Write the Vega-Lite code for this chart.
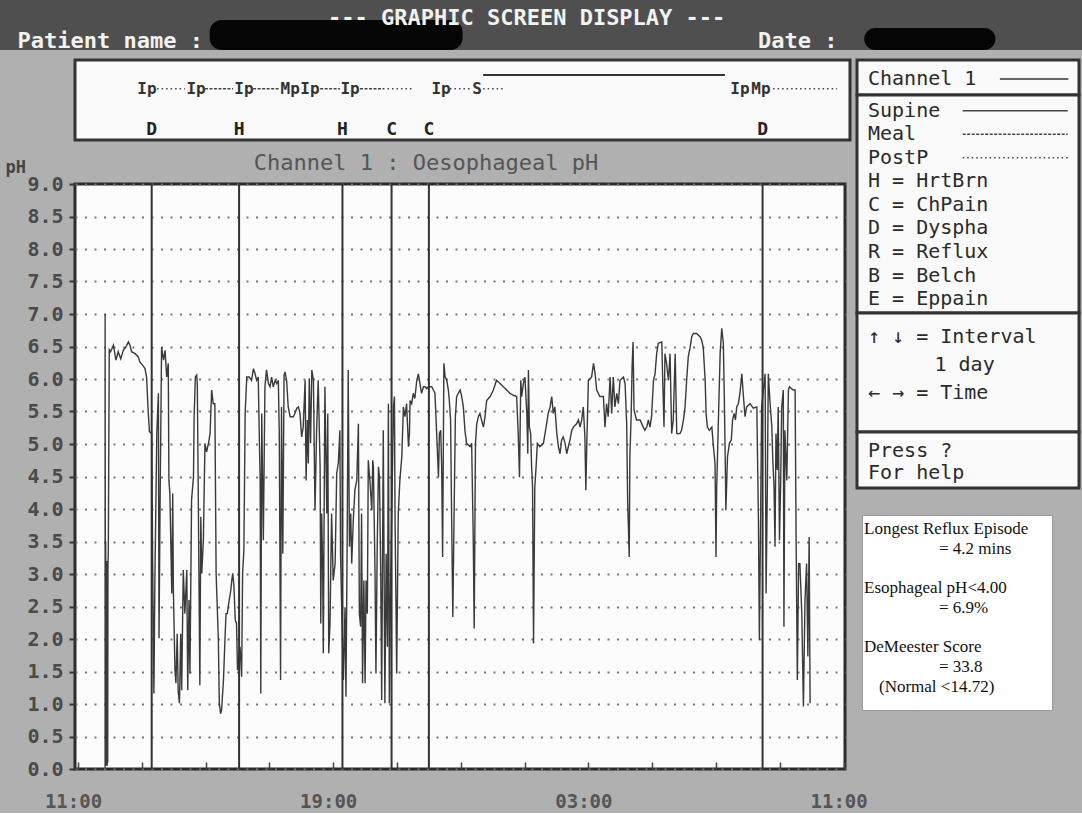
{
  "$schema": "https://vega.github.io/schema/vega-lite/v6.json",
  "background": "#b0b0b0",
  "padding": 0,
  "config": {
    "view": {"stroke": null},
    "font": "DejaVu Sans Mono",
    "text": {"font": "DejaVu Sans Mono"},
    "title": {"font": "DejaVu Sans Mono"}
  },
  "datasets": {
    "header": [
      {"text": "--- GRAPHIC SCREEN DISPLAY ---", "col": 24.25, "row": 1},
      {"text": "Patient name :", "col": 1.3, "row": 2},
      {"text": "Date :", "col": 56.05, "row": 2}
    ],
    "redacted": [
      {"col": 15.5, "col2": 34.2, "row": 1.106, "row2": 2.383},
      {"col": 63.9, "col2": 73.6, "row": 1.447, "row2": 2.383}
    ],
    "events": [
      {"hour": 2.31, "code": "D"},
      {"hour": 5.05, "code": "H"},
      {"hour": 8.29, "code": "H"},
      {"hour": 9.83, "code": "C"},
      {"hour": 11.0, "code": "C"},
      {"hour": 21.46, "code": "D"}
    ],
    "markers": [
      {"hour": 2.16, "label": "Ip"},
      {"hour": 3.7, "label": "Ip"},
      {"hour": 5.2, "label": "Ip"},
      {"hour": 6.65, "label": "Mp"},
      {"hour": 7.27, "label": "Ip"},
      {"hour": 8.53, "label": "Ip"},
      {"hour": 11.38, "label": "Ip"},
      {"hour": 12.51, "label": "S"},
      {"hour": 20.75, "label": "Ip"},
      {"hour": 21.41, "label": "Mp"}
    ],
    "periods": [
      {"start": 2.48, "end": 3.35, "kind": "PostP"},
      {"start": 3.98, "end": 4.86, "kind": "Meal"},
      {"start": 5.49, "end": 6.33, "kind": "Meal"},
      {"start": 7.59, "end": 8.21, "kind": "Meal"},
      {"start": 8.84, "end": 9.56, "kind": "Meal"},
      {"start": 9.56, "end": 10.5, "kind": "PostP"},
      {"start": 11.66, "end": 12.29, "kind": "PostP"},
      {"start": 12.7, "end": 13.32, "kind": "PostP"},
      {"start": 12.7, "end": 20.28, "kind": "Supine"},
      {"start": 21.79, "end": 23.79, "kind": "PostP"}
    ],
    "chanRows": [{"row": 1, "col": 0, "text": "Channel 1"}],
    "legendRows": [
      {"row": 1, "col": 0, "text": "Supine", "kind": "Supine"},
      {"row": 2, "col": 0, "text": "Meal", "kind": "Meal"},
      {"row": 3, "col": 0, "text": "PostP", "kind": "PostP"},
      {"row": 4, "col": 0, "text": "H = HrtBrn"},
      {"row": 5, "col": 0, "text": "C = ChPain"},
      {"row": 6, "col": 0, "text": "D = Dyspha"},
      {"row": 7, "col": 0, "text": "R = Reflux"},
      {"row": 8, "col": 0, "text": "B = Belch"},
      {"row": 9, "col": 0, "text": "E = Eppain"}
    ],
    "keyRows": [
      {"row": 1, "col": 0, "text": "↑ ↓ = Interval"},
      {"row": 2, "col": 5, "text": "1 day"},
      {"row": 3, "col": 0, "text": "← → = Time"}
    ],
    "helpRows": [
      {"row": 1, "col": 0, "text": "Press ?"},
      {"row": 2, "col": 0, "text": "For help"}
    ],
    "statRows": [
      {"row": 0, "indent": 0, "text": "Longest Reflux Episode"},
      {"row": 1, "indent": 5, "text": "= 4.2 mins"},
      {"row": 3, "indent": 0, "text": "Esophageal pH<4.00"},
      {"row": 4, "indent": 5, "text": "= 6.9%"},
      {"row": 6, "indent": 0, "text": "DeMeester Score"},
      {"row": 7, "indent": 5, "text": "= 33.8"},
      {"row": 8, "indent": 1, "text": "(Normal <14.72)"}
    ],
    "ph": [
      {"hour":0.85,"pH":0.02},{"hour":0.85,"pH":7.0},{"hour":0.86,"pH":0.05},{"hour":0.868,"pH":3.5},{"hour":0.875,"pH":0.05},{"hour":0.882,"pH":3.2},{"hour":0.889,"pH":0.05},{"hour":0.896,"pH":3.2},{"hour":0.903,"pH":0.05},{"hour":0.91,"pH":3.2},{"hour":0.917,"pH":0.05},{"hour":0.924,"pH":3.2},{"hour":0.931,"pH":0.1},{"hour":0.94,"pH":3.2},{"hour":0.95,"pH":3.3},{"hour":0.98,"pH":6.45},
      {"hour":1.02,"pH":6.42},{"hour":1.11,"pH":6.52},{"hour":1.19,"pH":6.29},{"hour":1.26,"pH":6.42},{"hour":1.34,"pH":6.31},{"hour":1.42,"pH":6.44},{"hour":1.5,"pH":6.49},{"hour":1.58,"pH":6.57},{"hour":1.63,"pH":6.52},{"hour":1.68,"pH":6.42},{"hour":1.79,"pH":6.39},{"hour":1.89,"pH":6.34},{"hour":1.94,"pH":6.26},{"hour":2.03,"pH":6.21},{"hour":2.1,"pH":6.16},{"hour":2.15,"pH":6.03},{"hour":2.2,"pH":5.5},{"hour":2.24,"pH":5.19},{"hour":2.31,"pH":5.16},{"hour":2.34,"pH":3.21},{"hour":2.38,"pH":1.16},{"hour":2.41,"pH":2.9},{"hour":2.47,"pH":5.16},{"hour":2.52,"pH":5.78},{"hour":2.54,"pH":2.01},{"hour":2.57,"pH":3.93},{"hour":2.62,"pH":6.49},{"hour":2.68,"pH":6.29},{"hour":2.73,"pH":6.44},{"hour":2.78,"pH":6.03},{"hour":2.83,"pH":6.24},{"hour":2.85,"pH":4.44},{"hour":2.88,"pH":4.24},{"hour":2.94,"pH":2.7},{"hour":2.97,"pH":4.24},{"hour":2.99,"pH":2.75},{"hour":3.04,"pH":1.52},{"hour":3.07,"pH":1.32},{"hour":3.11,"pH":2.08},{"hour":3.14,"pH":1.21},{"hour":3.18,"pH":1.01},{"hour":3.22,"pH":2.08},{"hour":3.25,"pH":1.21},{"hour":3.3,"pH":3.06},{"hour":3.35,"pH":2.39},{"hour":3.41,"pH":3.06},{"hour":3.44,"pH":1.21},{"hour":3.48,"pH":2.6},{"hour":3.51,"pH":1.47},{"hour":3.56,"pH":4.14},{"hour":3.62,"pH":4.49},{"hour":3.64,"pH":5.42},{"hour":3.68,"pH":6.03},{"hour":3.72,"pH":6.06},{"hour":3.74,"pH":5.93},{"hour":3.77,"pH":4.24},{"hour":3.82,"pH":1.29},{"hour":3.85,"pH":3.88},{"hour":3.88,"pH":3.01},{"hour":3.93,"pH":3.52},{"hour":3.98,"pH":5.01},{"hour":4.03,"pH":4.88},{"hour":4.09,"pH":5.01},{"hour":4.14,"pH":5.16},{"hour":4.19,"pH":5.83},{"hour":4.24,"pH":5.62},{"hour":4.29,"pH":5.62},{"hour":4.33,"pH":3.01},{"hour":4.4,"pH":1.98},{"hour":4.43,"pH":1.01},{"hour":4.47,"pH":0.85},{"hour":4.5,"pH":0.9},{"hour":4.56,"pH":1.37},{"hour":4.61,"pH":2.03},{"hour":4.64,"pH":2.39},{"hour":4.68,"pH":2.39},{"hour":4.74,"pH":2.6},{"hour":4.79,"pH":2.75},{"hour":4.82,"pH":2.9},{"hour":4.85,"pH":3.01},{"hour":4.89,"pH":2.8},{"hour":4.93,"pH":2.29},{"hour":4.97,"pH":2.24},{"hour":5.0,"pH":1.52},{"hour":5.08,"pH":1.88},{"hour":5.13,"pH":1.42},{"hour":5.16,"pH":3.01},{"hour":5.2,"pH":3.37},{"hour":5.24,"pH":5.47},{"hour":5.29,"pH":6.03},{"hour":5.37,"pH":6.03},{"hour":5.44,"pH":5.98},{"hour":5.5,"pH":6.16},{"hour":5.55,"pH":6.08},{"hour":5.6,"pH":5.98},{"hour":5.65,"pH":6.03},{"hour":5.71,"pH":4.44},{"hour":5.73,"pH":1.16},{"hour":5.76,"pH":5.47},{"hour":5.81,"pH":3.52},{"hour":5.86,"pH":5.88},{"hour":5.91,"pH":6.14},{"hour":5.97,"pH":5.93},{"hour":6.02,"pH":5.88},{"hour":6.07,"pH":6.03},{"hour":6.12,"pH":5.88},{"hour":6.18,"pH":5.98},{"hour":6.23,"pH":5.93},{"hour":6.28,"pH":5.98},{"hour":6.31,"pH":5.16},{"hour":6.35,"pH":1.37},{"hour":6.38,"pH":5.57},{"hour":6.42,"pH":3.31},{"hour":6.46,"pH":6.06},{"hour":6.49,"pH":6.11},{"hour":6.54,"pH":5.98},{"hour":6.59,"pH":5.57},{"hour":6.65,"pH":5.42},{"hour":6.75,"pH":5.42},{"hour":6.8,"pH":5.47},{"hour":6.86,"pH":5.55},{"hour":6.91,"pH":5.57},{"hour":6.96,"pH":5.47},{"hour":7.01,"pH":5.11},{"hour":7.06,"pH":5.26},{"hour":7.12,"pH":5.98},{"hour":7.15,"pH":4.44},{"hour":7.19,"pH":5.37},{"hour":7.22,"pH":4.7},{"hour":7.25,"pH":6.01},{"hour":7.29,"pH":5.01},{"hour":7.33,"pH":6.14},{"hour":7.38,"pH":5.98},{"hour":7.43,"pH":3.98},{"hour":7.48,"pH":5.21},{"hour":7.53,"pH":5.98},{"hour":7.59,"pH":4.65},{"hour":7.61,"pH":2.24},{"hour":7.64,"pH":3.93},{"hour":7.67,"pH":3.11},{"hour":7.69,"pH":1.78},{"hour":7.74,"pH":5.88},{"hour":7.8,"pH":3.93},{"hour":7.83,"pH":5.47},{"hour":7.86,"pH":1.78},{"hour":7.9,"pH":2.24},{"hour":7.95,"pH":3.93},{"hour":8.0,"pH":2.9},{"hour":8.06,"pH":3.16},{"hour":8.11,"pH":4.55},{"hour":8.16,"pH":4.7},{"hour":8.21,"pH":5.21},{"hour":8.23,"pH":3.31},{"hour":8.27,"pH":2.39},{"hour":8.32,"pH":1.37},{"hour":8.37,"pH":2.49},{"hour":8.4,"pH":1.11},{"hour":8.44,"pH":3.62},{"hour":8.47,"pH":6.14},{"hour":8.51,"pH":3.42},{"hour":8.55,"pH":3.93},{"hour":8.58,"pH":3.16},{"hour":8.63,"pH":3.83},{"hour":8.68,"pH":4.29},{"hour":8.74,"pH":4.44},{"hour":8.79,"pH":5.31},{"hour":8.82,"pH":2.39},{"hour":8.86,"pH":2.19},{"hour":8.89,"pH":3.93},{"hour":8.92,"pH":1.32},{"hour":8.96,"pH":2.9},{"hour":9.0,"pH":1.32},{"hour":9.03,"pH":2.9},{"hour":9.07,"pH":2.39},{"hour":9.1,"pH":4.75},{"hour":9.15,"pH":4.44},{"hour":9.21,"pH":3.98},{"hour":9.24,"pH":4.75},{"hour":9.26,"pH":4.65},{"hour":9.31,"pH":3.06},{"hour":9.34,"pH":1.47},{"hour":9.38,"pH":3.42},{"hour":9.42,"pH":4.65},{"hour":9.45,"pH":4.49},{"hour":9.49,"pH":3.01},{"hour":9.52,"pH":1.06},{"hour":9.57,"pH":5.21},{"hour":9.62,"pH":1.01},{"hour":9.66,"pH":3.31},{"hour":9.7,"pH":1.88},{"hour":9.73,"pH":5.62},{"hour":9.76,"pH":1.01},{"hour":9.8,"pH":2.9},{"hour":9.89,"pH":5.57},{"hour":9.92,"pH":5.73},{"hour":9.94,"pH":3.78},{"hour":9.97,"pH":2.49},{"hour":9.99,"pH":1.47},{"hour":10.04,"pH":3.93},{"hour":10.09,"pH":4.44},{"hour":10.15,"pH":4.8},{"hour":10.2,"pH":5.57},{"hour":10.25,"pH":5.42},{"hour":10.3,"pH":5.62},{"hour":10.36,"pH":4.96},{"hour":10.39,"pH":5.16},{"hour":10.41,"pH":5.67},{"hour":10.46,"pH":5.62},{"hour":10.51,"pH":5.78},{"hour":10.56,"pH":5.7},{"hour":10.62,"pH":5.98},{"hour":10.67,"pH":6.08},{"hour":10.72,"pH":5.93},{"hour":10.77,"pH":5.78},{"hour":10.83,"pH":5.88},{"hour":10.88,"pH":5.88},{"hour":10.93,"pH":5.85},{"hour":10.98,"pH":5.88},{"hour":11.09,"pH":5.88},{"hour":11.14,"pH":5.83},{"hour":11.19,"pH":5.78},{"hour":11.24,"pH":5.21},{"hour":11.3,"pH":4.49},{"hour":11.33,"pH":5.16},{"hour":11.37,"pH":5.21},{"hour":11.4,"pH":4.65},{"hour":11.43,"pH":3.26},{"hour":11.47,"pH":6.24},{"hour":11.51,"pH":6.03},{"hour":11.56,"pH":5.98},{"hour":11.61,"pH":5.83},{"hour":11.64,"pH":5.67},{"hour":11.68,"pH":5.37},{"hour":11.71,"pH":3.98},{"hour":11.75,"pH":2.34},{"hour":11.79,"pH":3.93},{"hour":11.83,"pH":5.42},{"hour":11.87,"pH":5.73},{"hour":11.92,"pH":5.78},{"hour":11.98,"pH":5.83},{"hour":12.03,"pH":5.73},{"hour":12.08,"pH":5.57},{"hour":12.13,"pH":5.21},{"hour":12.18,"pH":5.01},{"hour":12.29,"pH":4.96},{"hour":12.34,"pH":5.01},{"hour":12.39,"pH":3.57},{"hour":12.42,"pH":2.16},{"hour":12.46,"pH":5.01},
      {"hour":12.5,"pH":5.31},{"hour":12.55,"pH":5.42},{"hour":12.6,"pH":5.47},{"hour":12.65,"pH":5.37},{"hour":12.71,"pH":5.26},{"hour":12.76,"pH":5.42},{"hour":12.81,"pH":5.67},{"hour":12.92,"pH":5.73},{"hour":13.02,"pH":5.83},{"hour":13.12,"pH":5.98},{"hour":13.23,"pH":5.93},{"hour":13.33,"pH":5.88},{"hour":13.44,"pH":5.83},{"hour":13.54,"pH":5.78},{"hour":13.65,"pH":5.75},{"hour":13.75,"pH":5.73},{"hour":13.8,"pH":5.16},{"hour":13.84,"pH":4.49},{"hour":13.88,"pH":5.98},{"hour":13.91,"pH":5.73},{"hour":13.96,"pH":5.93},{"hour":14.01,"pH":6.03},{"hour":14.07,"pH":5.47},{"hour":14.1,"pH":4.85},{"hour":14.12,"pH":6.14},{"hour":14.15,"pH":5.26},{"hour":14.19,"pH":5.16},{"hour":14.22,"pH":4.65},{"hour":14.25,"pH":4.34},{"hour":14.28,"pH":1.93},{"hour":14.32,"pH":4.34},{"hour":14.36,"pH":4.65},{"hour":14.4,"pH":5.01},{"hour":14.48,"pH":4.96},{"hour":14.59,"pH":5.01},{"hour":14.69,"pH":5.31},{"hour":14.74,"pH":5.47},{"hour":14.8,"pH":5.57},{"hour":14.85,"pH":5.73},{"hour":14.9,"pH":5.47},{"hour":14.95,"pH":5.57},{"hour":15.01,"pH":5.16},{"hour":15.06,"pH":4.96},{"hour":15.11,"pH":4.85},{"hour":15.16,"pH":5.06},{"hour":15.21,"pH":5.11},{"hour":15.27,"pH":5.01},{"hour":15.32,"pH":4.85},{"hour":15.42,"pH":5.06},{"hour":15.48,"pH":5.21},{"hour":15.53,"pH":5.26},{"hour":15.63,"pH":5.31},{"hour":15.685,"pH":5.37},{"hour":15.74,"pH":5.26},{"hour":15.79,"pH":5.37},{"hour":15.84,"pH":5.57},{"hour":15.89,"pH":5.11},{"hour":15.92,"pH":4.29},{"hour":15.95,"pH":5.01},{"hour":16.0,"pH":5.98},{"hour":16.1,"pH":6.03},{"hour":16.16,"pH":6.24},{"hour":16.21,"pH":6.08},{"hour":16.26,"pH":5.83},{"hour":16.36,"pH":5.73},{"hour":16.47,"pH":5.73},{"hour":16.52,"pH":5.26},{"hour":16.57,"pH":5.62},{"hour":16.62,"pH":5.42},{"hour":16.68,"pH":6.03},{"hour":16.73,"pH":5.47},{"hour":16.78,"pH":6.03},{"hour":16.83,"pH":5.57},{"hour":16.89,"pH":5.78},{"hour":16.94,"pH":5.62},{"hour":16.99,"pH":5.98},{"hour":17.1,"pH":6.03},{"hour":17.15,"pH":5.93},{"hour":17.2,"pH":5.31},{"hour":17.23,"pH":4.14},{"hour":17.28,"pH":3.26},{"hour":17.3,"pH":4.8},{"hour":17.34,"pH":5.42},{"hour":17.37,"pH":6.19},{"hour":17.4,"pH":6.57},{"hour":17.43,"pH":5.52},{"hour":17.51,"pH":5.37},{"hour":17.62,"pH":5.37},{"hour":17.72,"pH":5.26},{"hour":17.77,"pH":5.21},{"hour":17.83,"pH":5.26},{"hour":17.88,"pH":5.37},{"hour":17.93,"pH":5.26},{"hour":17.98,"pH":5.42},{"hour":18.04,"pH":5.98},{"hour":18.09,"pH":6.08},{"hour":18.14,"pH":6.39},{"hour":18.19,"pH":6.55},{"hour":18.3,"pH":6.57},{"hour":18.33,"pH":5.98},{"hour":18.37,"pH":5.26},{"hour":18.4,"pH":6.39},{"hour":18.45,"pH":6.24},{"hour":18.51,"pH":5.98},{"hour":18.56,"pH":6.39},{"hour":18.61,"pH":5.16},{"hour":18.66,"pH":5.37},{"hour":18.72,"pH":6.39},{"hour":18.77,"pH":5.16},{"hour":18.87,"pH":5.16},{"hour":18.92,"pH":5.21},{"hour":18.98,"pH":5.37},{"hour":19.03,"pH":5.57},{"hour":19.08,"pH":5.98},{"hour":19.13,"pH":6.34},{"hour":19.19,"pH":6.49},{"hour":19.24,"pH":6.65},{"hour":19.29,"pH":6.7},{"hour":19.39,"pH":6.7},{"hour":19.5,"pH":6.65},{"hour":19.55,"pH":6.6},{"hour":19.6,"pH":6.49},{"hour":19.66,"pH":5.98},{"hour":19.69,"pH":5.47},{"hour":19.73,"pH":5.26},{"hour":19.79,"pH":5.21},{"hour":19.87,"pH":5.26},{"hour":19.92,"pH":4.96},{"hour":19.97,"pH":4.7},{"hour":20.0,"pH":3.26},{"hour":20.02,"pH":4.29},{"hour":20.07,"pH":5.26},{"hour":20.13,"pH":6.39},{"hour":20.18,"pH":6.78},{"hour":20.23,"pH":6.55},{"hour":20.26,"pH":5.73},{"hour":20.29,"pH":4.75},{"hour":20.31,"pH":3.98},{"hour":20.36,"pH":4.8},{"hour":20.42,"pH":5.01},{"hour":20.48,"pH":5.06},{"hour":20.52,"pH":5.37},{"hour":20.57,"pH":5.47},{"hour":20.61,"pH":5.37},{"hour":20.65,"pH":5.57},{"hour":20.7,"pH":5.62},{"hour":20.75,"pH":5.78},{"hour":20.81,"pH":6.08},{"hour":20.86,"pH":5.73},{"hour":20.91,"pH":5.42},{"hour":20.96,"pH":5.57},{"hour":21.07,"pH":5.62},{"hour":21.17,"pH":5.55},{"hour":21.28,"pH":5.57},{"hour":21.33,"pH":3.83},{"hour":21.36,"pH":1.98},{"hour":21.4,"pH":3.93},{"hour":21.43,"pH":5.57},{"hour":21.54,"pH":6.08},{"hour":21.57,"pH":2.7},{"hour":21.61,"pH":4.34},{"hour":21.64,"pH":6.08},{"hour":21.69,"pH":5.67},{"hour":21.75,"pH":5.26},{"hour":21.78,"pH":4.75},{"hour":21.82,"pH":4.34},{"hour":21.85,"pH":3.42},{"hour":21.88,"pH":5.16},{"hour":21.92,"pH":4.6},{"hour":21.95,"pH":5.57},{"hour":21.99,"pH":3.52},{"hour":22.03,"pH":4.49},{"hour":22.06,"pH":5.57},{"hour":22.11,"pH":5.83},{"hour":22.13,"pH":2.19},{"hour":22.16,"pH":5.21},{"hour":22.22,"pH":4.44},{"hour":22.27,"pH":5.83},{"hour":22.3,"pH":5.88},{"hour":22.42,"pH":5.83},{"hour":22.48,"pH":5.83},{"hour":22.51,"pH":3.62},{"hour":22.55,"pH":1.37},{"hour":22.59,"pH":3.16},{"hour":22.63,"pH":3.16},{"hour":22.69,"pH":2.39},{"hour":22.74,"pH":0.96},{"hour":22.79,"pH":2.6},{"hour":22.84,"pH":3.16},{"hour":22.88,"pH":1.73},{"hour":22.92,"pH":3.57},{"hour":22.95,"pH":1.01}
    ]
  },
  "spacing": 10,
  "bounds": "flush",
  "vconcat": [
    {
      "width": 1082,
      "height": 50,
      "view": {"fill": "#4f4f4f", "stroke": null},
      "layer": [
        {
          "data": {"name": "redacted"},
          "mark": {"type": "rect", "color": "#050505", "cornerRadius": 12},
          "encoding": {
            "x": {"field": "col", "type": "quantitative", "scale": {"domain": [0, 80], "nice": false, "zero": false}, "axis": null},
            "x2": {"field": "col2"},
            "y": {"field": "row", "type": "quantitative", "scale": {"domain": [0.255, 2.383], "nice": false, "zero": false, "reverse": true}, "axis": null},
            "y2": {"field": "row2"}
          }
        },
        {
          "data": {"name": "header"},
          "mark": {"type": "text", "align": "left", "baseline": "middle", "fontSize": 22, "fontWeight": "bold", "color": "#f2f2f2"},
          "encoding": {
            "x": {"field": "col", "type": "quantitative"},
            "y": {"field": "row", "type": "quantitative"},
            "text": {"field": "text"}
          }
        }
      ]
    },
    {
      "spacing": 7,
      "bounds": "flush",
      "hconcat": [
        {
          "width": 68,
          "height": 10,
          "data": {"values": [{}]},
          "mark": {"type": "point", "opacity": 0}
        },
        {
          "spacing": 44,
          "bounds": "flush",
          "vconcat": [
            {
              "width": 775,
              "height": 80,
              "view": {"fill": "#fafafa", "stroke": "#333333", "strokeWidth": 3},
              "layer": [
                {
                  "data": {"name": "periods"},
                  "transform": [{"filter": "datum.kind != 'Supine'"}],
                  "mark": {"type": "rule", "color": "#444444", "strokeWidth": 1.6},
                  "encoding": {
                    "x": {"field": "start", "type": "quantitative", "scale": {"domain": [-0.094, 24.2], "nice": false, "zero": false}, "axis": null},
                    "x2": {"field": "end"},
                    "y": {"datum": "timeline", "type": "nominal", "scale": {"type": "point", "domain": ["supine", "timeline", "g1", "g2", "symptom"], "range": [15, 70], "padding": 0}, "axis": null},
                    "strokeDash": {"field": "kind", "type": "nominal", "scale": {"domain": ["Supine", "Meal", "PostP"], "range": [[1, 0], [3, 1.5], [1.5, 3]]}, "legend": null}
                  }
                },
                {
                  "data": {"name": "periods"},
                  "transform": [{"filter": "datum.kind == 'Supine'"}],
                  "mark": {"type": "rule", "color": "#333333", "strokeWidth": 2},
                  "encoding": {
                    "x": {"field": "start", "type": "quantitative"},
                    "x2": {"field": "end"},
                    "y": {"datum": "supine", "type": "nominal"}
                  }
                },
                {
                  "data": {"name": "markers"},
                  "mark": {"type": "text", "baseline": "middle", "fontSize": 16, "fontWeight": "bold", "color": "#333333"},
                  "encoding": {
                    "x": {"field": "hour", "type": "quantitative"},
                    "y": {"datum": "timeline", "type": "nominal"},
                    "text": {"field": "label"}
                  }
                },
                {
                  "data": {"name": "events"},
                  "mark": {"type": "text", "baseline": "middle", "fontSize": 18, "fontWeight": "bold", "color": "#222222"},
                  "encoding": {
                    "x": {"field": "hour", "type": "quantitative"},
                    "y": {"datum": "symptom", "type": "nominal"},
                    "text": {"field": "code"}
                  }
                }
              ]
            },
            {
              "width": 770,
              "height": 585,
              "view": {"fill": "#fcfcfc", "stroke": "#2b2b2b", "strokeWidth": 3},
              "title": {"text": "Channel 1 : Oesophageal pH", "anchor": "middle", "frame": "group", "offset": -17, "dx": -34, "fontSize": 22, "fontWeight": "normal", "color": "#555555", "font": "DejaVu Sans Mono"},
              "layer": [
                {
                  "data": {"name": "ph"},
                  "mark": {"type": "line", "color": "#3a3a3a", "strokeWidth": 1.4},
                  "encoding": {
                    "x": {
                      "field": "hour", "type": "quantitative",
                      "scale": {"domain": [-0.094, 24.044], "nice": false, "zero": false},
                      "axis": {
                        "title": null,
                        "values": [0,1,2,3,4,5,6,7,8,9,10,11,12,13,14,15,16,17,18,19,20,21,22,23,24],
                        "labelExpr": "datum.value % 8 == 0 ? (((11 + datum.value) % 24) < 10 ? '0' : '') + ((11 + datum.value) % 24) + ':00' : ''",
                        "labelFont": "DejaVu Sans Mono", "labelFontSize": 19, "labelFontWeight": "bold", "labelColor": "#555555",
                        "labelPadding": 30, "labelOffset": -5, "labelFlush": false, "labelOverlap": false, "labelBound": false,
                        "tickSize": -7, "tickWidth": 1.5, "tickColor": "#444444",
                        "domain": false, "grid": false
                      }
                    },
                    "y": {
                      "field": "pH", "type": "quantitative",
                      "scale": {"domain": [0, 9], "nice": false, "zero": false},
                      "axis": {
                        "title": "pH", "titleAngle": 0, "titleX": -70, "titleY": -17, "titleAlign": "left", "titleBaseline": "middle",
                        "titleFont": "DejaVu Sans Mono", "titleFontSize": 17, "titleFontWeight": "bold", "titleColor": "#444444",
                        "values": [0,0.5,1,1.5,2,2.5,3,3.5,4,4.5,5,5.5,6,6.5,7,7.5,8,8.5,9],
                        "format": ".1f",
                        "labelFont": "DejaVu Sans Mono", "labelFontSize": 20, "labelFontWeight": "bold", "labelColor": "#4a4a4a",
                        "labelPadding": 6, "labelOverlap": false, "labelBound": false, "labelFlush": false,
                        "tickSize": 6, "tickWidth": 2, "tickColor": "#333333",
                        "domain": false,
                        "grid": true, "gridColor": "#777777", "gridWidth": 2, "gridDash": [2, 7.5]
                      }
                    },
                    "order": {"value": null}
                  }
                },
                {
                  "data": {"name": "events"},
                  "mark": {"type": "rule", "color": "#333333", "strokeWidth": 2},
                  "encoding": {
                    "x": {"field": "hour", "type": "quantitative"}
                  }
                }
              ]
            }
          ]
        },
        {
          "width": 768,
          "height": 10,
          "data": {"values": [{}]},
          "mark": {"type": "point", "opacity": 0}
        },
        {
          "spacing": 0,
          "bounds": "flush",
          "vconcat": [
            {
              "width": 222,
              "height": 35,
              "view": {"fill": "#fafafa", "stroke": "#333333", "strokeWidth": 3},
              "data": {"name": "chanRows"},
              "layer": [
                {
                  "mark": {"type": "text", "align": "left", "baseline": "middle", "dx": 11, "fontSize": 20, "color": "#2a2a2a"},
                  "encoding": {
                    "x": {"field": "col", "type": "quantitative", "scale": {"domain": [0, 16.7], "nice": false, "zero": false}, "axis": null},
                    "y": {"field": "row", "type": "quantitative", "scale": {"domain": [0.193, 1.679], "nice": false, "zero": false, "reverse": true}, "axis": null},
                    "text": {"field": "text"}
                  }
                },
                {
                  "mark": {"type": "rule", "color": "#333333", "strokeWidth": 1.5},
                  "encoding": {
                    "x": {"datum": 10.75},
                    "x2": {"datum": 15.9},
                    "y": {"field": "row", "type": "quantitative"}
                  }
                }
              ]
            },
            {
              "width": 222,
              "height": 218,
              "view": {"fill": "#fafafa", "stroke": "#333333", "strokeWidth": 3},
              "data": {"name": "legendRows"},
              "layer": [
                {
                  "mark": {"type": "text", "align": "left", "baseline": "middle", "dx": 11, "fontSize": 20, "color": "#2a2a2a"},
                  "encoding": {
                    "x": {"field": "col", "type": "quantitative", "scale": {"domain": [0, 16.7], "nice": false, "zero": false}, "axis": null},
                    "y": {"field": "row", "type": "quantitative", "scale": {"domain": [0.333, 9.59], "nice": false, "zero": false, "reverse": true}, "axis": null},
                    "text": {"field": "text"}
                  }
                },
                {
                  "transform": [{"filter": "datum.kind != null"}],
                  "mark": {"type": "rule", "color": "#444444", "strokeWidth": 1.5},
                  "encoding": {
                    "x": {"datum": 7.95},
                    "x2": {"datum": 15.85},
                    "y": {"field": "row", "type": "quantitative"},
                    "strokeDash": {"field": "kind", "type": "nominal", "scale": {"domain": ["Supine", "Meal", "PostP"], "range": [[1, 0], [3, 1.5], [1.5, 3]]}, "legend": null}
                  }
                }
              ]
            },
            {
              "width": 222,
              "height": 119,
              "view": {"fill": "#fafafa", "stroke": "#333333", "strokeWidth": 3},
              "data": {"name": "keyRows"},
              "mark": {"type": "text", "align": "left", "baseline": "middle", "dx": 11, "fontSize": 20, "color": "#2a2a2a"},
              "encoding": {
                "x": {"field": "col", "type": "quantitative", "scale": {"domain": [0, 16.7], "nice": false, "zero": false}, "axis": null},
                "y": {"field": "row", "type": "quantitative", "scale": {"domain": [0.155, 4.405], "nice": false, "zero": false, "reverse": true}, "axis": null},
                "text": {"field": "text"}
              }
            },
            {
              "width": 222,
              "height": 56,
              "view": {"fill": "#fafafa", "stroke": "#333333", "strokeWidth": 3},
              "data": {"name": "helpRows"},
              "mark": {"type": "text", "align": "left", "baseline": "middle", "dx": 11, "fontSize": 20, "color": "#2a2a2a"},
              "encoding": {
                "x": {"field": "col", "type": "quantitative", "scale": {"domain": [0, 16.7], "nice": false, "zero": false}, "axis": null},
                "y": {"field": "row", "type": "quantitative", "scale": {"domain": [0.136, 2.68], "nice": false, "zero": false, "reverse": true}, "axis": null},
                "text": {"field": "text"}
              }
            },
            {
              "width": 10,
              "height": 27,
              "data": {"values": [{}]},
              "mark": {"type": "point", "opacity": 0}
            },
            {
              "spacing": 0,
              "bounds": "flush",
              "hconcat": [
                {
                  "width": 5,
                  "height": 10,
                  "data": {"values": [{}]},
                  "mark": {"type": "point", "opacity": 0}
                },
                {
                  "width": 190,
                  "height": 195,
                  "view": {"fill": "#ffffff", "stroke": "#9a9a9a", "strokeWidth": 1},
                  "data": {"name": "statRows"},
                  "mark": {"type": "text", "align": "left", "baseline": "middle", "dx": 2, "font": "Liberation Serif", "fontSize": 17, "color": "#111111"},
                  "encoding": {
                    "x": {"field": "indent", "type": "quantitative", "scale": {"domain": [0, 12.67], "nice": false, "zero": false}, "axis": null},
                    "y": {"field": "row", "type": "quantitative", "scale": {"domain": [-0.709, 9.165], "nice": false, "zero": false, "reverse": true}, "axis": null},
                    "text": {"field": "text"}
                  }
                }
              ]
            }
          ]
        }
      ]
    }
  ]
}
